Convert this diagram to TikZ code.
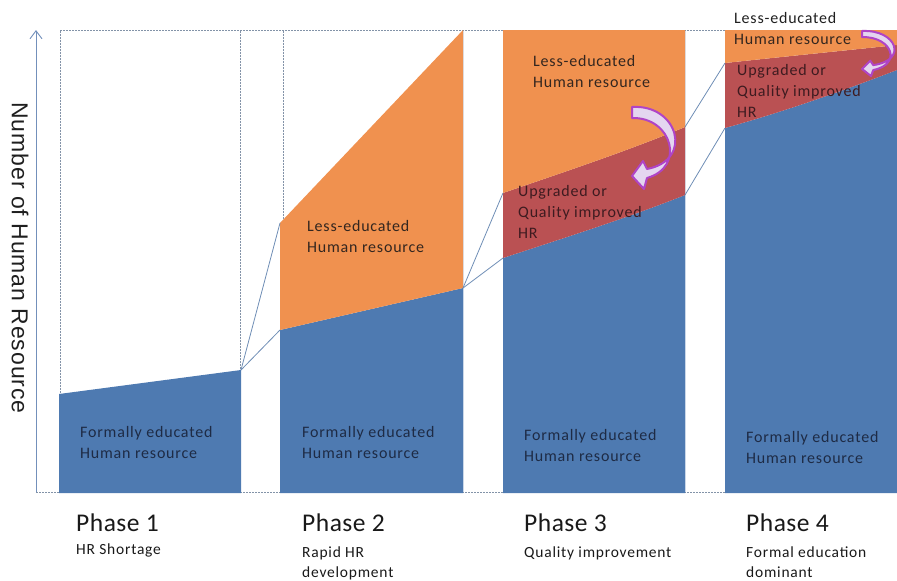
\documentclass[tikz,border=0pt]{standalone}
\usepackage{fontspec}
\setmainfont{Carlito}
\newfontfamily\lblfont{Carlito}[LetterSpace=5]
\newfontfamily\phfont{Carlito}[LetterSpace=2]
\newfontfamily\axfont{Liberation Sans}[LetterSpace=4]
\usetikzlibrary{arrows.meta}
\definecolor{hrblue}{HTML}{4E7AB1}
\definecolor{hrorange}{HTML}{F0914F}
\definecolor{hrred}{HTML}{BA5153}
\definecolor{txtblue}{HTML}{1E2B45}
\definecolor{txtorange}{HTML}{33261F}
\definecolor{txtred}{HTML}{3E1B20}
\definecolor{linkcol}{HTML}{6E8DB5}
\definecolor{framecol}{HTML}{8393A8}
\definecolor{faintcol}{HTML}{DCE5F0}
\definecolor{axiscol}{HTML}{7390BB}
\definecolor{arrpurple}{HTML}{B044C6}
\definecolor{arrfill}{HTML}{E4D6F0}
\begin{document}
\begin{tikzpicture}[x=1pt,y=-1pt,
  lbl/.style={font=\lblfont\fontsize{16}{21}\selectfont, anchor=base west, inner sep=0pt},
  onblue/.style={lbl, text=txtblue},
  onorange/.style={lbl, text=txtorange},
  onred/.style={lbl, text=txtred},
  phaselbl/.style={font=\phfont\fontsize{25.5}{30}\selectfont, anchor=base west, inner sep=0pt, text=black!90},
  sublbl/.style={font=\lblfont\fontsize{15.5}{20.5}\selectfont, anchor=base west, inner sep=0pt, text=black!90},
  framedash/.style={draw=framecol, line width=0.8pt, dash pattern=on 2pt off 1pt},
  connline/.style={draw=linkcol, line width=0.8pt},
  curvehead/.style={draw=arrpurple, line width=2pt, fill=arrfill, line join=round},
  hrarrow/.pic={
    \draw[curvehead] (0,0) .. controls (46,-3) and (62,53) .. (15,62)
      -- (11,54) -- (0,69) -- (12,82) -- (15,71)
      .. controls (54,60) and (40,10) .. (0,11) -- cycle;
  }
]
\useasboundingbox (0,0) rectangle (897,581);

% frame
\draw[framedash] (36,492) -- (897,492);
\draw[framedash] (60,30.5) -- (897,30.5);
\draw[framedash] (60,30.5) -- (60,394);
\draw[framedash] (240,30.5) -- (240,370);
\draw[framedash] (283,30.5) -- (283,225);
\foreach \xx in {463,503,685,725} \draw[faintcol, line width=0.8pt] (\xx,31) -- (\xx,492);

% axis
\coordinate (axb) at (36,492);
\coordinate (axt) at (36,30);
\draw[axiscol, line width=0.9pt, -{Straight Barb[length=8pt,width=12pt]}] (axb) -- (axt);
\node[rotate=-90, font=\axfont\fontsize{23}{27}\selectfont, text=black!88, inner sep=0pt] (ylab) at (20,258) {Number of Human Resource};

% corner coordinates
\coordinate (p1r) at (241,370);
\coordinate (p2lt) at (280,223);
\coordinate (p2lb) at (280,330);
\coordinate (p2rb) at (463,288);
\coordinate (p3lm) at (503,193);
\coordinate (p3lb) at (503,258);
\coordinate (p3rm) at (685,127);
\coordinate (p3rb) at (685,195);
\coordinate (p4lm) at (725,63);
\coordinate (p4lb) at (725,128);

% phase 1
\fill[hrblue] (59,493) -- (59,394) -- (p1r) -- (241,493) -- cycle;
% phase 2
\fill[hrblue] (280,493) -- (p2lb) -- (p2rb) -- (463,493) -- cycle;
\fill[hrorange] (p2lb) -- (p2lt) -- (463,30) -- (p2rb) -- cycle;
% phase 3
\fill[hrblue] (503,493) -- (p3lb) .. controls (570,236) and (630,217) .. (p3rb) -- (685,493) -- cycle;
\fill[hrred] (p3lb) -- (p3lm) .. controls (570,170) and (630,150) .. (p3rm) -- (p3rb) .. controls (630,217) and (570,236) .. (p3lb) -- cycle;
\fill[hrorange] (p3lm) -- (503,30) -- (685,30) -- (p3rm) .. controls (630,150) and (570,170) .. (p3lm) -- cycle;
% phase 4
\fill[hrblue] (725,493) -- (p4lb) .. controls (790,110) and (850,88) .. (897,70) -- (897,493) -- cycle;
\fill[hrred] (p4lb) -- (p4lm) .. controls (790,56) and (850,50) .. (897,45) -- (897,70) .. controls (850,88) and (790,110) .. (p4lb) -- cycle;
\fill[hrorange] (p4lm) -- (725,30) -- (897,30) -- (897,45) .. controls (850,50) and (790,56) .. (p4lm) -- cycle;

% connectors
\draw[connline] (p1r) -- (p2lt);
\draw[connline] (p1r) -- (p2lb);
\draw[connline] (p2rb) -- (p3lm);
\draw[connline] (p2rb) -- (p3lb);
\draw[connline] (p3rm) -- (p4lm);
\draw[connline] (p3rb) -- (p4lb);

% texts in bars
\node[onblue] (fe1a) at (80,437) {Formally educated};
\node[onblue] (fe1b) at (80,458) {Human resource};
\node[onblue] (fe2a) at (302,437) {Formally educated};
\node[onblue] (fe2b) at (302,458) {Human resource};
\node[onblue] (fe3a) at (524,440) {Formally educated};
\node[onblue] (fe3b) at (524,461) {Human resource};
\node[onblue] (fe4a) at (746,442) {Formally educated};
\node[onblue] (fe4b) at (746,463) {Human resource};

\node[onorange] (le2a) at (307,231) {Less-educated};
\node[onorange] (le2b) at (307,252) {Human resource};
\node[onorange] (le3a) at (533,66) {Less-educated};
\node[onorange] (le3b) at (533,87) {Human resource};
\node[lbl, text=black!88] (le4a) at (734,23) {Less-educated};
\node[onorange] (le4b) at (734,44) {Human resource};

\node[onred] (uq3a) at (518,196) {Upgraded or};
\node[onred] (uq3b) at (518,217) {Quality improved};
\node[onred] (uq3c) at (518,238) {HR};
\node[onred] (uq4a) at (737,75) {Upgraded or};
\node[onred] (uq4b) at (737,96) {Quality improved};
\node[onred] (uq4c) at (737,117) {HR};

% phase labels
\node[phaselbl] (ph1) at (76,531) {Phase 1};
\node[phaselbl] (ph2) at (302,531) {Phase 2};
\node[phaselbl] (ph3) at (524,531) {Phase 3};
\node[phaselbl] (ph4) at (746,531) {Phase 4};
\node[sublbl] (s1) at (76,554) {HR Shortage};
\node[sublbl] (s2a) at (302,557) {Rapid HR};
\node[sublbl] (s2b) at (302,577) {development};
\node[sublbl] (s3) at (524,557) {Quality improvement};
\node[sublbl] (s4a) at (746,557) {Formal education};
\node[sublbl] (s4b) at (746,577) {dominant};

% curved arrows
\pic (arr3) at (632,107) {hrarrow};
\pic[xscale=0.75, yscale=0.55] (arr4) at (862,31) {hrarrow};
\end{tikzpicture}
\end{document}
